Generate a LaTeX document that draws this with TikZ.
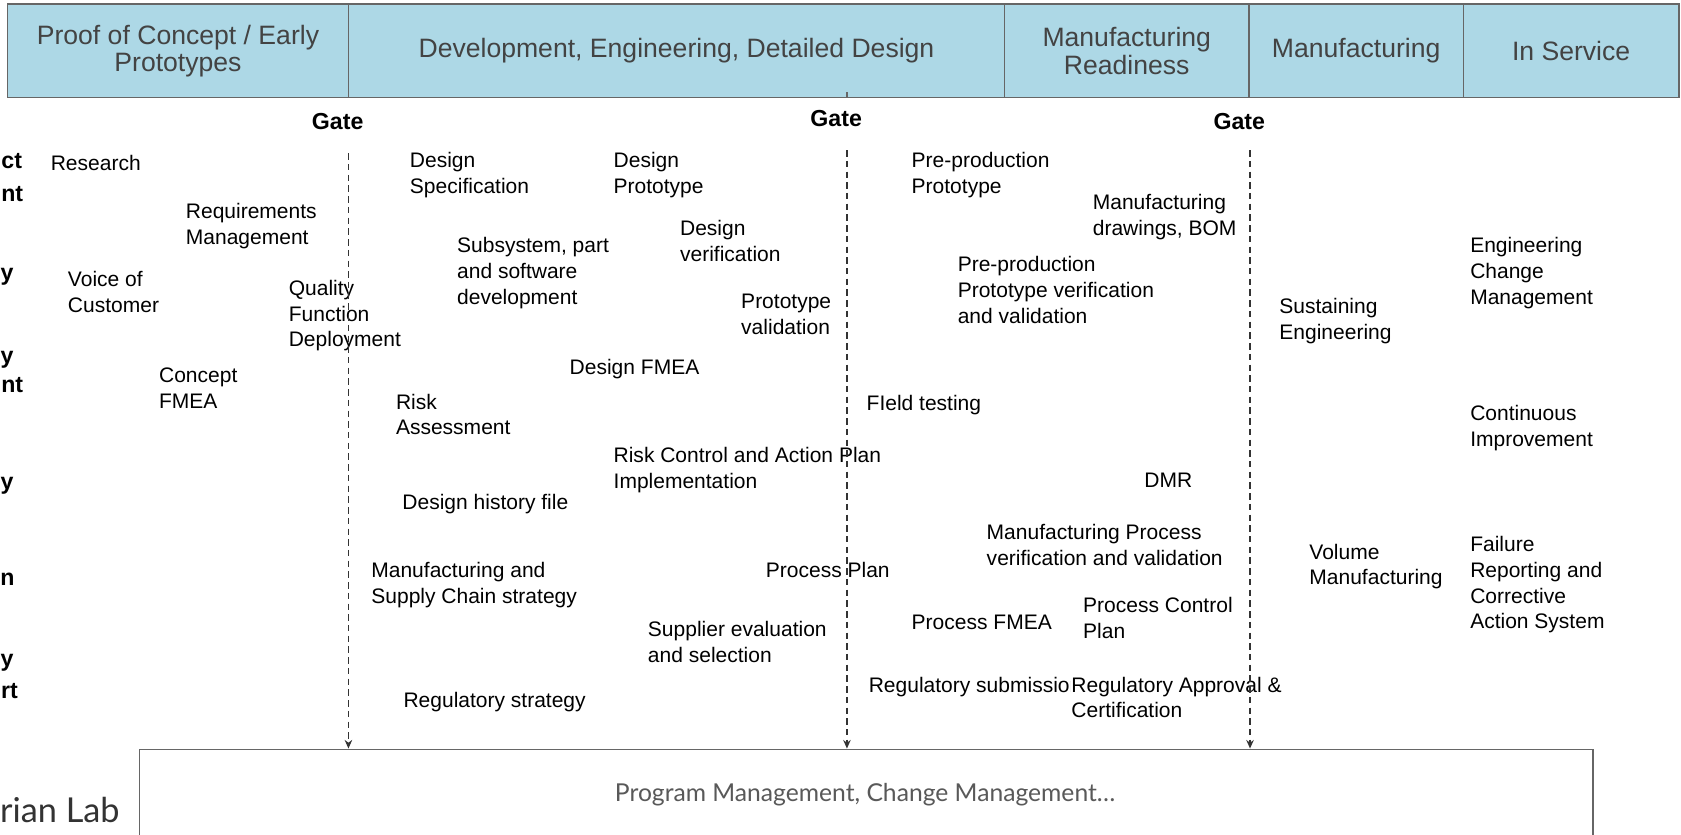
\documentclass[tikz,border=0pt]{standalone}
\usepackage{fontspec}
\setmainfont{Liberation Sans}
\newfontfamily\latofont{Lato}
\usetikzlibrary{arrows.meta}
\definecolor{hdrfill}{HTML}{ADD8E6}
\definecolor{hdrline}{HTML}{666666}
\definecolor{hdrtext}{HTML}{434343}
\definecolor{gatecol}{HTML}{333333}
\definecolor{pmcol}{HTML}{595959}
\begin{document}
\begin{tikzpicture}[x=0.5pt,y=-0.5pt,
 hdr/.style={draw=hdrline, line width=0.8pt, fill=hdrfill, minimum height=43.5pt, inner sep=0pt, align=center, text=hdrtext, font=\fontsize{12.4}{12.8}\selectfont},
 item/.style={anchor=north west, inner sep=0pt, align=left, font=\fontsize{9.8}{12}\selectfont},
 gatelbl/.style={inner sep=0pt, font=\bfseries\fontsize{10.8}{13}\selectfont},
 frag/.style={anchor=north east, inner sep=0pt, font=\bfseries\fontsize{10.8}{13}\selectfont},
 gateline/.style={draw=gatecol, line width=0.65pt, dash pattern=on 3pt off 2pt, -{Stealth[length=4pt,width=3.5pt]}},
 pmbox/.style={draw=hdrline, line width=0.8pt, minimum width=678pt, minimum height=50pt, inner sep=0pt},
 pmtext/.style={inner sep=0pt, text=pmcol, font=\latofont\fontsize{11.5}{13}\selectfont},
 labtext/.style={anchor=base east, inner sep=0pt, text=gatecol, font=\latofont\fontsize{16}{20}\selectfont}]
\useasboundingbox (0,0) rectangle (1568,778);
\fill[white] (0,0) rectangle (1568,778);
\clip (0,0) rectangle (1568,778);

% header
\node[hdr, minimum width=159pt] (h1) at (166,47.5) {Proof of Concept / Early\\Prototypes};
\node[hdr, minimum width=306pt] (h2) at (631,47.5) {Development, Engineering, Detailed Design};
\node[hdr, minimum width=114pt] (h3) at (1051,47.5) {Manufacturing\\Readiness};
\node[hdr, minimum width=100pt] (h4) at (1265,47.5) {Manufacturing};
\node[hdr, minimum width=100.5pt] (h5) at (1465.5,47.5) {In Service};

% left cut-off labels
\node[frag] (f1) at (21,143) {ct};
\node[frag] (f2) at (22,173) {nt};
\node[frag] (f3) at (13,250) {y};
\node[frag] (f4) at (13,327) {y};
\node[frag] (f5) at (22,352) {nt};
\node[frag] (f6) at (13,445) {y};
\node[frag] (f7) at (14,534) {n};
\node[frag] (f8) at (13,610) {y};
\node[frag] (f9) at (17,637) {rt};

% gate labels
\node[gatelbl] (gl1) at (315,113) {Gate};
\node[gatelbl] (gl2) at (780,111) {Gate};
\node[gatelbl] (gl3) at (1156,113) {Gate};

% phase 1
\node[item] (research) at (47,144) {Research};
\node[item] (req) at (173,189) {Requirements\\Management};
\node[item] (voc) at (63,253) {Voice of\\Customer};
\node[item] (qfd) at (269,261) {Quality\\Function\\Deployment};
\node[item] (cfmea) at (148,343) {Concept\\FMEA};

% phase 2
\node[item] (dspec) at (382,142) {Design\\Specification};
\node[item] (dproto) at (572,142) {Design\\Prototype};
\node[item] (dver) at (634,205) {Design\\verification};
\node[item] (subsys) at (426,221) {Subsystem, part\\and software\\development};
\node[item] (pval) at (691,274) {Prototype\\validation};
\node[item] (dfmea) at (531,335) {Design FMEA};
\node[item] (risk) at (369,367) {Risk\\Assessment};
\node[item] (rcap) at (572,417) {Risk Control and Action Plan\\Implementation};
\node[item] (dhf) at (375,461) {Design history file};
\node[item] (msc) at (346,524) {Manufacturing and\\Supply Chain strategy};
\node[item] (pplan) at (714,524) {Process Plan};
\node[item] (supp) at (604,579) {Supplier evaluation\\and selection};
\node[item] (regstr) at (376,645) {Regulatory strategy};

% phase 3
\node[item] (ppp) at (850,142) {Pre-production\\Prototype};
\node[item] (mdraw) at (1019,181) {Manufacturing\\drawings, BOM};
\node[item] (pppv) at (893,239) {Pre-production\\Prototype verification\\and validation};
\node[item] (field) at (808,368) {FIeld testing};
\node[item] (dmr) at (1067,441) {DMR};
\node[item] (mpv) at (920,489) {Manufacturing Process\\verification and validation};
\node[item] (pcp) at (1010,557) {Process Control\\Plan};
\node[item] (pfmea) at (850,573) {Process FMEA};
\node[item] (regsub) at (810,631) {Regulatory submission};
\node[item, fill=white] (regapp) at (999,631) {Regulatory Approval \&\\Certification};

% phase 4
\node[item] (sust) at (1193,278) {Sustaining\\Engineering};
\node[item] (vol) at (1221,507) {Volume\\Manufacturing};

% phase 5
\node[item] (ecm) at (1371,221) {Engineering\\Change\\Management};
\node[item] (ci) at (1371,378) {Continuous\\Improvement};
\node[item] (fracas) at (1371,500) {Failure\\Reporting and\\Corrective\\Action System};

% bottom
\node[pmbox] (pm) at (808,749) {};
\node[pmtext] (pmt) at (807,741) {Program Management, Change Management…};
\node[labtext] (lab) at (112,767) {rian Lab};

% gate connectors
\coordinate (g1) at (325,143);
\coordinate (g2) at (790,140);
\coordinate (g3) at (1166,140);
\draw[gateline] (g1) -- (g1 |- pm.north);
\draw[gateline] (g2) -- (g2 |- pm.north);
\draw[gateline] (g3) -- (g3 |- pm.north);
\coordinate (tk) at (790,86);
\draw[draw=hdrline, line width=0.6pt] (tk) -- (tk |- h2.south);
\end{tikzpicture}
\end{document}
